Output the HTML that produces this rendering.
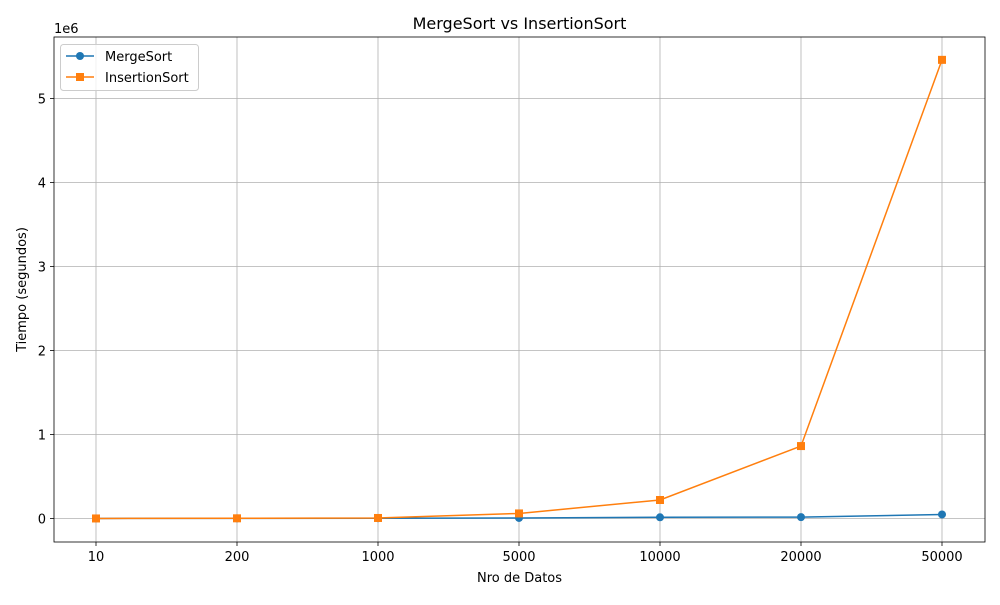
<!DOCTYPE html>
<html><head><meta charset="utf-8"><style>
body{margin:0;background:#fff;font-family:"Liberation Sans","DejaVu Sans",sans-serif;}
svg text{font-family:"DejaVu Sans","Liberation Sans",sans-serif;}
</style></head><body>
<svg id="chart" width="1000" height="600" xmlns="http://www.w3.org/2000/svg">
<rect width="1000" height="600" fill="#fff"/>
<g id="grid"></g>
<g id="axes"></g>
<g id="series"></g>
<text x="519.5" y="29" text-anchor="middle" font-size="16">MergeSort vs InsertionSort</text>
<text x="519.5" y="582" text-anchor="middle" font-size="13">Nro de Datos</text>
<text transform="translate(26,289.5) rotate(-90)" text-anchor="middle" font-size="13">Tiempo (segundos)</text>
<text x="54" y="33" font-size="13">1e6</text>
<g>
<rect x="60.5" y="44.5" width="138" height="46" rx="3" fill="#fff" fill-opacity="0.8" stroke="#ccc"/>
<g>
<line x1="66" y1="56" x2="94" y2="56" stroke="#1f77b4" stroke-width="1.5"/>
<circle cx="80" cy="56" r="4" fill="#1f77b4"/>
<text x="105" y="61" font-size="13">MergeSort</text></g>
<g>
<line x1="66" y1="77" x2="94" y2="77" stroke="#ff7f0e" stroke-width="1.5"/>
<rect x="76" y="73" width="8" height="8" fill="#ff7f0e"/>
<text x="105" y="82" font-size="13">InsertionSort</text></g>
</g>
</svg>
<script>
const categories=["10","200","1000","5000","10000","20000","50000"];
const mergeValues=[500,1500,3000,6000,14000,16000,48000];
const insertionValues=[300,2000,6000,60000,220000,862000,5460000];
const yTicks=[0,1,2,3,4,5];
const NS="http://www.w3.org/2000/svg";
const L=54,R=985,T=37,B=542,yMin=-0.28e6,yMax=5.732e6;
function xPos(i){return 96+i*(942-96)/(categories.length-1);}
function yPos(v){return B-(v-yMin)/(yMax-yMin)*(B-T);}
function mk(tag,attrs,parent){const e=document.createElementNS(NS,tag);for(const k in attrs)e.setAttribute(k,attrs[k]);parent.appendChild(e);return e;}
const grid=document.getElementById('grid'),axes=document.getElementById('axes'),series=document.getElementById('series');
categories.forEach((c,i)=>{
 const x=xPos(i);
 const g=mk('line',{x1:x,x2:x,y1:T,y2:B,stroke:'#b0b0b0','stroke-width':0.8},grid);
 
 
 mk('line',{x1:x,x2:x,y1:B,y2:B+4,stroke:'#000','stroke-width':0.8},axes);
 const t=mk('text',{x:x,y:B+19,'text-anchor':'middle','font-size':13},axes);t.textContent=c;
 
 
});
yTicks.forEach(v=>{
 const y=yPos(v*1e6);
 const g=mk('line',{x1:L,x2:R,y1:y,y2:y,stroke:'#b0b0b0','stroke-width':0.8},grid);
 
 
 mk('line',{x1:L-4,x2:L,y1:y,y2:y,stroke:'#000','stroke-width':0.8},axes);
 const t=mk('text',{x:L-8,y:y+5,'text-anchor':'end','font-size':13},axes);t.textContent=v;
 
 
});
const frame=mk('rect',{x:L,y:T,width:R-L,height:B-T,fill:'none',stroke:'#000','stroke-width':0.8},axes);


function draw(vals,color,marker,name){
 const pts=vals.map((v,i)=>xPos(i)+','+yPos(v)).join(' ');
 const pl=mk('polyline',{points:pts,fill:'none',stroke:color,'stroke-width':1.5},series);
 
 
 vals.forEach((v,i)=>{
  let m;
  if(marker==='o')m=mk('circle',{cx:xPos(i),cy:yPos(v),r:4,fill:color},series);
  else m=mk('rect',{x:xPos(i)-4,y:yPos(v)-4,width:8,height:8,fill:color},series);
  
  
 });
}
draw(mergeValues,'#1f77b4','o','mergesort');
draw(insertionValues,'#ff7f0e','s','insertionsort');
</script>
</body></html>
